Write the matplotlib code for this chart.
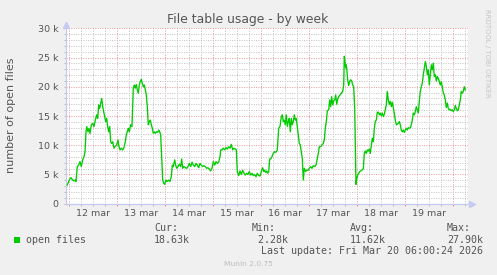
import matplotlib
matplotlib.use('Agg')
import matplotlib.pyplot as plt
import matplotlib.transforms as mtransforms
from matplotlib.patches import Rectangle

# ---------------- data ----------------
# hours since Mar 12 00:00
hours = [
    -1.0, 0.0, 0.85, 1.7, 2.35, 2.85, 3.35, 4.0, 4.7, 5.35, 6.0, 6.7, 7.35, 7.85, 8.35, 8.7,
    9.35, 9.85, 10.35, 11.0, 11.7, 12.35, 13.0, 13.7, 14.2, 14.7, 15.2, 15.7, 16.2, 16.7,
    17.2, 17.7, 18.2, 18.7, 19.2, 19.7, 20.2, 20.7, 21.2, 21.7, 22.35, 22.85, 23.7, 24.35,
    24.85, 25.35, 26.0, 26.7, 27.35, 28.0, 28.5, 29.0, 29.5, 30.0, 30.7, 31.35, 32.0, 32.5,
    33.0, 33.5, 34.0, 34.5, 35.0, 35.5, 36.0, 36.5, 37.0, 37.5, 38.0, 38.5, 39.0, 39.5,
    40.0, 40.5, 41.0, 41.5, 42.0, 42.5, 43.0, 43.7, 44.2, 44.7, 45.2, 45.7, 46.2, 46.7,
    47.2, 47.7, 48.35, 49.0, 49.7, 50.35, 51.0, 51.5, 52.0, 52.7, 53.2, 53.7, 54.35, 55.0,
    55.7, 56.2, 56.7, 57.35, 58.0, 58.7, 59.35, 60.0, 60.7, 61.35, 62.0, 62.7, 63.35, 64.0,
    64.7, 65.35, 66.0, 66.7, 67.35, 68.0, 68.7, 69.35, 70.0, 70.7, 71.35, 72.0, 72.7, 73.35,
    74.0, 74.7, 75.35, 75.7, 76.35, 77.0, 77.7, 78.35, 79.0, 79.7, 80.35, 81.0, 81.7, 82.35,
    83.0, 83.5, 84.0, 84.7, 85.35, 86.0, 86.7, 87.35, 88.0, 88.7, 89.35, 90.0, 90.7, 91.35,
    92.0, 92.7, 93.35, 94.0, 94.7, 95.35, 96.0, 96.7, 97.2, 97.7, 98.2, 98.7, 99.2, 99.7,
    100.2, 100.85, 101.35, 102.0, 102.7, 103.35, 104.0, 104.7, 105.35, 106.0, 106.5, 107.0,
    107.5, 108.0, 108.5, 109.0, 109.5, 110.0, 110.5, 111.0, 111.5, 112.0, 112.5, 113.0,
    113.5, 114.0, 114.5, 115.0, 115.5, 116.0, 116.5, 117.0, 117.5, 118.2, 118.7, 119.35,
    120.0, 120.7, 121.35, 122.0, 122.7, 123.35, 124.0, 124.5, 125.0, 125.7, 126.35, 127.0,
    127.5, 128.0, 128.5, 129.0, 129.7, 130.2, 130.7, 131.2, 131.7, 132.2, 132.7, 133.2,
    133.7, 134.2, 134.7, 135.35, 136.0, 136.7, 137.2, 137.5, 137.85, 138.2, 138.5, 138.85,
    139.2, 139.7, 140.2, 140.7, 141.2, 141.7, 142.2, 142.7, 143.0, 143.35, 143.7, 144.2,
    144.7, 145.2, 145.7, 146.35, 147.0, 147.5, 148.0, 148.5, 149.0, 149.5, 150.0, 150.5,
    151.0, 151.5, 152.0, 152.5, 153.0, 153.5, 154.0, 154.5, 155.0, 155.5, 156.0, 156.5,
    157.0, 157.5, 158.0, 158.5, 159.0, 159.5, 160.0, 160.5, 161.0, 161.5, 162.0, 162.5,
    163.0, 163.5, 164.0, 164.5, 165.0, 165.5, 166.0, 166.5, 167.0, 167.5, 168.0, 168.5,
    169.0, 169.5, 170.0, 170.5, 171.0, 171.5, 172.0, 172.5, 173.0, 173.5, 174.0, 174.5,
    175.0, 175.5, 176.0, 176.5, 177.0, 177.5, 178.0, 178.5, 179.0, 179.5, 180.0, 180.5,
    181.0, 181.5, 182.0, 182.5, 183.0, 183.5, 184.0, 184.5, 185.0, 185.5, 186.0, 186.5,
    187.0, 187.5, 188.0, 188.5, 189.0, 189.5, 190.0, 190.5, 191.0, 191.5, 192.0, 192.5,
    193.0, 193.5, 194.0, 194.5, 195.0, 195.5, 196.0, 196.5, 197.0, 197.5, 198.0,
]
# open files, thousands
open_files_k = [
    3.2, 4.05, 4.45, 4.05, 3.9, 4.05, 3.8, 6.35, 6.6, 7.2, 6.35, 7.5, 8.05, 8.9, 12.3, 13.2,
    12.3, 12.9, 12.0, 13.5, 13.75, 13.2, 14.3, 15.2, 14.6, 16.9, 16.3, 17.2, 18.0, 16.6,
    15.75, 14.9, 14.0, 14.6, 13.2, 12.3, 13.2, 10.6, 10.3, 10.6, 9.5, 9.75, 10.05, 10.9,
    9.75, 9.2, 9.5, 9.2, 9.6, 10.6, 11.75, 12.3, 12.9, 12.3, 13.5, 13.2, 19.75, 20.3,
    19.75, 20.4, 19.5, 18.9, 20.3, 20.9, 21.3, 20.6, 20.0, 20.3, 19.5, 18.6, 16.6, 13.5,
    14.05, 14.3, 13.5, 12.9, 12.05, 12.3, 12.05, 12.3, 12.2, 12.6, 12.3, 11.75, 7.75, 4.05,
    3.5, 3.3, 4.05, 3.8, 4.05, 3.8, 4.6, 6.6, 6.35, 7.5, 6.6, 6.05, 6.35, 6.75,
    6.35, 7.65, 6.05, 6.35, 6.15, 6.05, 6.35, 6.9, 6.35, 7.1, 6.6, 6.35, 6.9, 6.6,
    6.15, 6.9, 6.6, 6.35, 6.5, 6.35, 6.05, 6.15, 5.95, 5.6, 6.05, 7.2, 6.6, 7.2,
    6.9, 7.1, 8.05, 9.2, 9.2, 9.5, 9.2, 9.6, 9.35, 9.75, 9.5, 10.15, 9.2, 9.5,
    9.35, 9.2, 5.5, 4.8, 5.6, 5.0, 5.7, 5.2, 4.9, 5.2, 5.0, 5.5, 4.9, 5.2,
    4.8, 5.0, 4.6, 5.2, 4.8, 4.75, 5.5, 6.15, 5.5, 5.75, 5.35, 5.6, 5.2, 5.5,
    7.65, 7.75, 8.05, 8.6, 8.9, 8.8, 9.2, 12.9, 13.2, 14.9, 15.2, 14.05,
    14.3, 13.5, 15.2, 13.2, 14.05, 14.6, 12.3, 14.6, 13.5, 14.05, 15.2, 14.3,
    14.6, 13.2, 11.75, 10.3, 10.05, 8.9, 7.75, 4.05, 6.05, 5.5, 5.75, 5.7,
    6.05, 6.35, 6.05, 6.5, 6.35, 6.6, 7.75, 8.6, 9.75, 9.75, 10.05, 10.3,
    10.9, 12.9, 14.05, 15.9, 16.05, 17.75, 16.6, 18.3, 16.9, 17.6, 17.75, 18.6,
    17.0, 17.9, 18.3, 18.6, 18.9, 19.2, 20.3, 25.2, 24.3, 23.2, 23.75, 22.6,
    21.2, 20.2, 20.9, 21.2, 21.0, 20.3, 20.0, 16.3, 10.05, 3.3, 4.2, 4.9,
    5.2, 5.5, 5.6, 5.75, 5.95, 8.6, 9.0, 8.6, 9.2, 9.0, 9.35, 8.6,
    9.9, 11.2, 10.6, 12.9, 14.05, 14.3, 15.65, 15.65, 15.2, 15.5, 15.05, 15.5,
    14.9, 15.3, 16.05, 16.9, 19.2, 17.75, 17.0, 17.5, 16.6, 17.35, 16.45, 15.5,
    14.3, 13.5, 13.6, 13.75, 14.05, 13.5, 12.6, 12.3, 12.6, 12.2, 12.6, 12.9,
    12.6, 13.0, 12.9, 13.0, 13.5, 14.3, 15.5, 15.2, 15.75, 16.6, 16.05, 15.5,
    17.5, 19.2, 20.0, 20.6, 22.05, 23.2, 24.3, 23.5, 22.05, 22.9, 20.3, 22.05,
    23.75, 22.9, 24.05, 21.75, 22.05, 21.0, 21.75, 21.45, 20.9, 20.3, 20.9, 20.0,
    18.9, 18.6, 17.75, 16.45, 17.2, 16.3, 16.05, 16.15, 15.9, 16.05, 15.75, 16.05,
    16.8, 16.3, 15.9, 16.05, 16.9, 17.75, 19.2, 18.9, 19.2, 20.0, 19.45,
]

day_labels = ['12 mar', '13 mar', '14 mar', '15 mar', '16 mar', '17 mar', '18 mar', '19 mar']
y_ticks_k = [0, 5, 10, 15, 20, 25, 30]
y_tick_labels = ['0', '5 k', '10 k', '15 k', '20 k', '25 k', '30 k']
title = 'File table usage - by week'
ylabel = 'number of open files'
series_label = 'open files'
stat_names = ['Cur:', 'Min:', 'Avg:', 'Max:']
stat_values = ['18.63k', ' 2.28k', '11.62k', '27.90k']
last_update = 'Last update: Fri Mar 20 06:00:24 2026'
side_text = 'RRDTOOL / TOBI OETIKER'
footer = 'Munin 2.0.75'

# ---------------- style ----------------
W, H = 497, 275
BG = '#F0F0F0'
TXT = '#555555'
LINE = '#00CC00'
AXIS = '#C4CAF2'
GRID = '#C4C4C4'
MGRID = '#EE9C9C'


def fx(px):
    return px / W


def fy(py):
    return 1 - py / H


fig = plt.figure(figsize=(W / 100, H / 100), dpi=100, facecolor=BG)
ax_l, ax_r, ax_t, ax_b = 66, 468, 28.3, 203.7
ax = fig.add_axes([fx(ax_l), fy(ax_b), (ax_r - ax_l) / W, (ax_b - ax_t) / H])
ax.set_facecolor('white')
ax.set_xlim(-1.65, 199.35)
ax.set_ylim(0, 30)

# ticks / grid
ax.set_xticks([24 * i for i in range(9)])
ax.set_xticks([6 * k for k in range(34) if k % 4], minor=True)
ax.set_yticks(y_ticks_k)
ax.set_yticklabels(y_tick_labels)
ax.set_yticks([v for v in range(31) if v % 5], minor=True)

dots = (0, (1, 1.4))
ax.grid(which='minor', color=GRID, linestyle=dots, linewidth=0.72)
ax.grid(which='major', color=MGRID, linestyle=dots, linewidth=0.72)
ax.set_axisbelow(True)

ax.tick_params(axis='x', which='both', labelbottom=False, direction='out', length=1.5, width=0.7)
ax.tick_params(axis='x', which='major', color='#E88888')
ax.tick_params(axis='x', which='minor', color='#BBBBBB')
ax.tick_params(axis='y', which='both', direction='out', length=1.5, width=0.7)
ax.tick_params(axis='y', which='major', color='#BBBBBB', labelsize=6.8, labelcolor=TXT, pad=3.8)
ax.tick_params(axis='y', which='minor', color='#BBBBBB')

for s in ('top', 'right'):
    ax.spines[s].set_visible(False)
for s in ('left', 'bottom'):
    ax.spines[s].set_color(AXIS)
    ax.spines[s].set_linewidth(0.9)

# axis arrows
ax.plot([1.0 + 3.5 / (ax_r - ax_l)], [0], marker='>', ms=4, color=AXIS, mec=AXIS,
        transform=ax.transAxes, clip_on=False)
ax.plot([0], [1.0 + 3.5 / (ax_b - ax_t)], marker='^', ms=4, color=AXIS, mec=AXIS,
        transform=ax.transAxes, clip_on=False)

# data line
ax.plot(hours, open_files_k, color=LINE, linewidth=0.95, solid_joinstyle='round', zorder=3)

# day labels at noon
blend = mtransforms.blended_transform_factory(ax.transData, fig.transFigure)
for i, lab in enumerate(day_labels):
    ax.text(24 * i + 12, fy(216.5), lab, transform=blend, ha='center', va='baseline',
            fontsize=6.8, color=TXT)

# titles
fig.text(fx(248), fy(23.2), title, ha='center', va='baseline', fontsize=8.9, color=TXT)
fig.text(fx(11), fy(115), ylabel, ha='center', va='center', rotation=90, fontsize=8, color=TXT)
fig.text(fx(487.5), fy(53.5), side_text, ha='center', va='center', rotation=-90,
         fontsize=5, color='#C4C4C4')

# legend
mono = 'DejaVu Sans Mono'
fig.add_artist(Rectangle((fx(14), fy(242.8)), 6 / W, 6 / H, transform=fig.transFigure,
                         facecolor=LINE, edgecolor='none'))
fig.text(fx(26), fy(242.6), series_label, family=mono, fontsize=7.2, color=TXT, va='baseline')
stat_x = [154, 252, 349.5, 447]
for xpos, name, val in zip(stat_x, stat_names, stat_values):
    fig.text(fx(xpos), fy(231), name, family=mono, fontsize=7.2, color=TXT, va='baseline')
    fig.text(fx(xpos), fy(242.6), val, family=mono, fontsize=7.2, color=TXT, va='baseline')
fig.text(fx(483), fy(254.5), last_update, family=mono, fontsize=7.2, color=TXT,
         ha='right', va='baseline')
fig.text(fx(248), fy(266.5), footer, ha='center', va='baseline', fontsize=5.4, color='#BDBDBD')

fig.savefig('out.png', dpi=100, facecolor=BG)
